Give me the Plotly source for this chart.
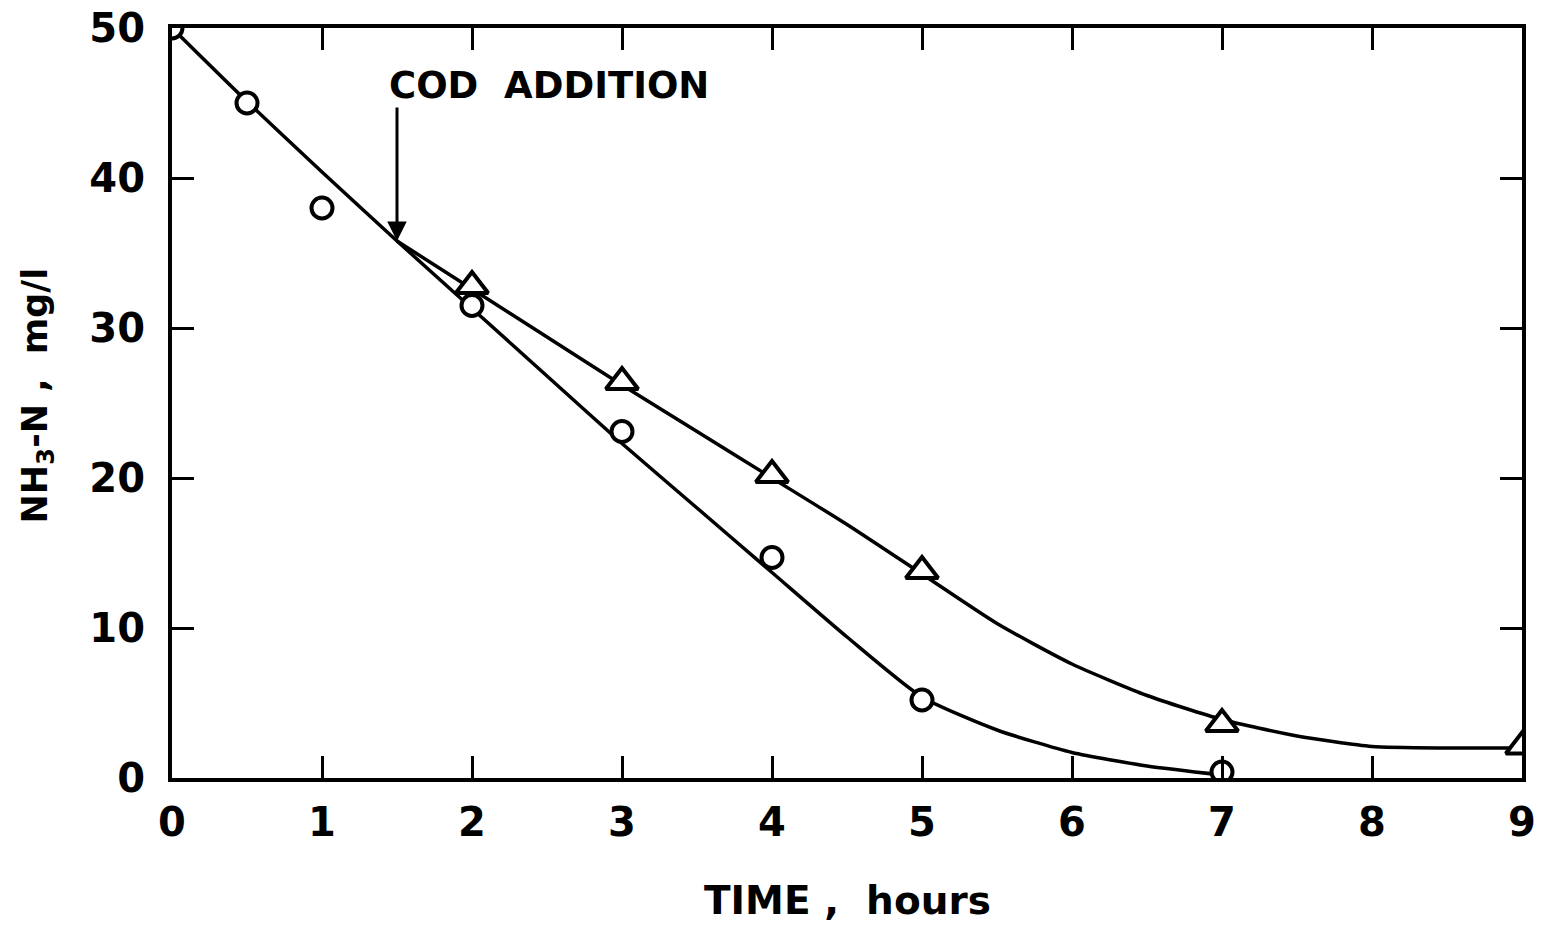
import plotly.graph_objects as go

# Measured NH3-N concentrations (mg/l) versus time (hours)
time_circle = [0, 0.5, 1, 2, 3, 4, 5, 7]
nh3_circle = [50, 45, 38, 31.5, 23.1, 14.7, 5.2, 0.4]

time_triangle = [2, 3, 4, 5, 7, 9]
nh3_triangle = [32.8, 26.4, 20.2, 13.8, 3.6, 2.1]

# Hand-fitted trend curves through each data set
fit_time_circle = [0, 0.5, 1, 1.5, 2, 2.5, 3, 3.5, 4, 4.5, 5, 5.5, 6, 6.5, 7]
fit_nh3_circle = [50, 45.1, 40.4, 35.8, 31.3, 26.8, 22.3, 18.0, 13.7, 9.4, 5.4, 3.2, 1.7, 0.8, 0.2]

fit_time_triangle = [1.5, 2, 2.5, 3, 3.5, 4, 4.5, 5, 5.5, 6, 6.5, 7, 7.5, 8, 8.5, 9]
fit_nh3_triangle = [35.8, 32.6, 29.4, 26.2, 23.1, 20.0, 16.9, 13.6, 10.3, 7.6, 5.5, 3.9, 2.8, 2.1, 2.0, 2.0]

x_ticks = [0, 1, 2, 3, 4, 5, 6, 7, 8, 9]
y_ticks = [0, 10, 20, 30, 40, 50]

cod_time = 1.5
cod_level = 35.8

FONT = "DejaVu Sans"

fig = go.Figure()

fig.add_trace(go.Scatter(
    x=fit_time_circle, y=fit_nh3_circle, mode="lines",
    line=dict(color="black", width=3.5, shape="spline", smoothing=0.6),
    hoverinfo="skip", showlegend=False,
))
fig.add_trace(go.Scatter(
    x=fit_time_triangle, y=fit_nh3_triangle, mode="lines",
    line=dict(color="black", width=3.5, shape="spline", smoothing=0.6),
    hoverinfo="skip", showlegend=False,
))
fig.add_trace(go.Scatter(
    x=time_triangle, y=nh3_triangle, mode="markers",
    marker=dict(symbol="triangle-up", size=28, color="white",
                line=dict(color="black", width=4)),
    showlegend=False,
))
fig.add_trace(go.Scatter(
    x=time_circle, y=nh3_circle, mode="markers",
    marker=dict(symbol="circle", size=21, color="white",
                line=dict(color="black", width=4)),
    showlegend=False,
))

axis_common = dict(
    showline=True, linecolor="black", linewidth=4, mirror="allticks",
    ticks="inside", ticklen=22, tickwidth=3, tickcolor="black",
    showgrid=False, zeroline=False, automargin=False,
    tickfont=dict(family=FONT, size=40, color="black", weight=600),
)

fig.update_xaxes(
    range=[0, 9], tickvals=x_ticks, ticktext=[str(v) for v in x_ticks],
    ticklabelstandoff=6, **axis_common,
)
fig.update_yaxes(
    range=[0, 50], tickvals=y_ticks, ticktext=[str(v) for v in y_ticks],
    ticklabelstandoff=15, **axis_common,
)

annotations = [
    # arrow marking the COD addition
    dict(x=cod_time, y=cod_level, ax=cod_time, ay=44.8, xref="x", yref="y",
         axref="x", ayref="y", text="", showarrow=True, arrowhead=2,
         arrowsize=1.3, arrowwidth=3, arrowcolor="black"),
    dict(x=2.51, y=46.2, xref="x", yref="y", text="COD  ADDITION",
         showarrow=False, font=dict(family=FONT, size=37, color="black", weight=600)),
    # axis titles
    dict(x=0.5, y=-0.163, xref="paper", yref="paper", text="TIME ,  hours",
         showarrow=False, yanchor="middle",
         font=dict(family=FONT, size=39, color="black", weight=600)),
    dict(x=-0.1, y=0.51, xref="paper", yref="paper",
         text="NH<sub>3</sub>-N ,  mg/l", textangle=-90, showarrow=False,
         xanchor="center", yanchor="middle",
         font=dict(family=FONT, size=35, color="black", weight=600)),
]

fig.update_layout(
    width=1543, height=930,
    margin=dict(l=172, r=21, t=28, b=152),
    plot_bgcolor="white", paper_bgcolor="white",
    annotations=annotations,
)

fig.write_html("out.html")
